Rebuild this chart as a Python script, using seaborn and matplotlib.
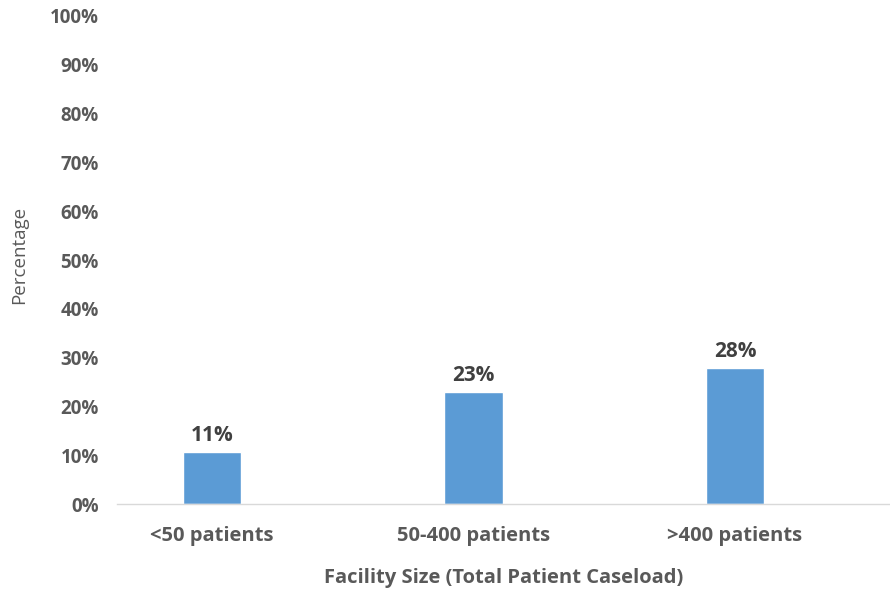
import matplotlib
matplotlib.use("Agg")
import matplotlib.pyplot as plt
import seaborn as sns
import pandas as pd
from matplotlib.ticker import PercentFormatter

categories = ["<50 patients", "50-400 patients", ">400 patients"]
percent = [10.6, 22.9, 27.9]
bar_labels = ["11%", "23%", "28%"]

sns.set_style("white")
plt.rcParams["font.family"] = ["Open Sans", "DejaVu Sans"]

df = pd.DataFrame({"size": categories, "pct": percent})

fig = plt.figure(figsize=(8.9, 5.92), dpi=100)
ax = fig.add_axes([0.1315, 0.1486, 0.8685, 0.8244])

sns.barplot(data=df, x="size", y="pct", color="#5b9bd5", width=0.224, ax=ax,
            saturation=1)

for i, (v, lab) in enumerate(zip(percent, bar_labels)):
    ax.text(i, v + 1.3, lab, ha="center", va="bottom", fontsize=15,
            fontweight="bold", color="#404040")

ax.set_ylim(0, 100)
ax.set_xlim(-0.363, 2.593)
ax.set_yticks(range(0, 101, 10))
ax.yaxis.set_major_formatter(PercentFormatter(decimals=0))

for s in ["top", "right", "left"]:
    ax.spines[s].set_visible(False)
ax.spines["bottom"].set_color("#d9d9d9")
ax.spines["bottom"].set_linewidth(1)

ax.tick_params(axis="y", length=0, colors="#595959", labelsize=13.5, pad=13)
ax.tick_params(axis="x", length=0, colors="#595959", labelsize=14.5, pad=16)
for t in ax.get_yticklabels() + ax.get_xticklabels():
    t.set_fontweight("bold")

ax.set_xlabel("Facility Size (Total Patient Caseload)", fontsize=14.5,
              fontweight="bold", color="#595959", labelpad=16)
ax.set_ylabel("Percentage", fontsize=13.5, color="#595959")
ax.yaxis.set_label_coords(-0.115, 0.51)

fig.savefig("out.png", dpi=100)
